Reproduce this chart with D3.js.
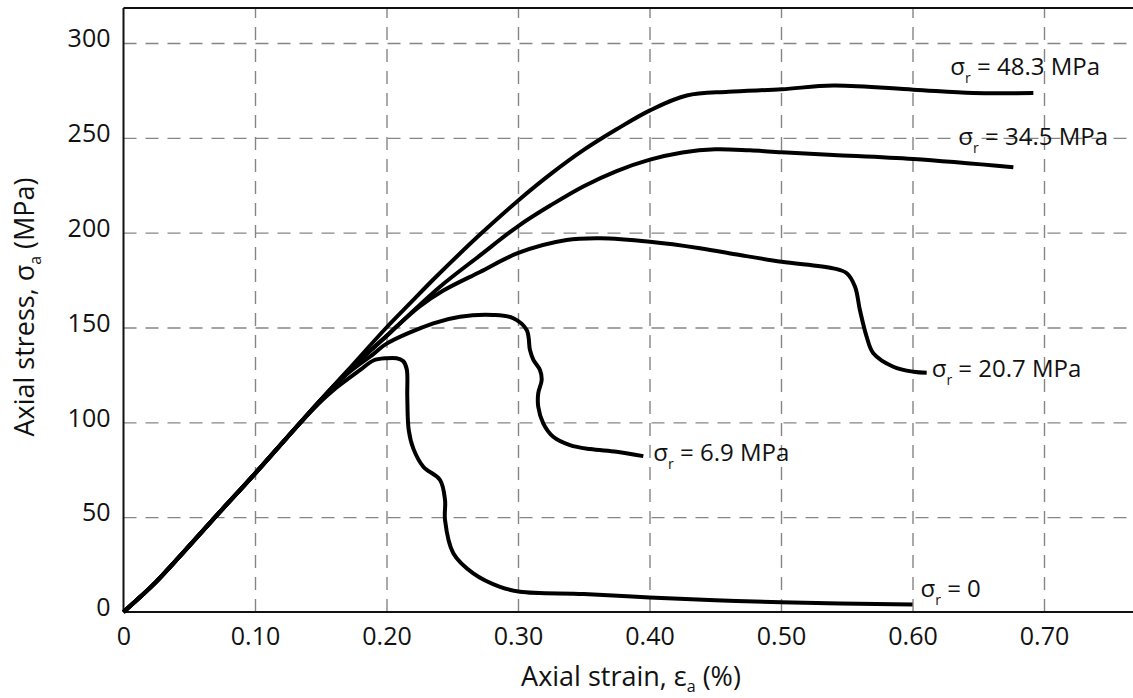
<!DOCTYPE html>
<html><head><meta charset="utf-8">
<script src="https://cdn.jsdelivr.net/npm/d3@7"></script>
<style>
body{margin:0;background:#fff}
svg{display:block;background:#fff}
text{font-family:"Open Sans",sans-serif;fill:#111}
</style>
</head><body>
<svg id="chart" width="1133" height="698"></svg>
<script>
// ---- data ----
const xTicks = [0, 0.1, 0.2, 0.3, 0.4, 0.5, 0.6, 0.7];
const xTickLabels = ["0", "0.10", "0.20", "0.30", "0.40", "0.50", "0.60", "0.70"];
const yTicks = [0, 50, 100, 150, 200, 250, 300];
const yTickLabels = ["0", "50", "100", "150", "200", "250", "300"];
const seriesLabels = ["48.3 MPa", "34.5 MPa", "20.7 MPa", "6.9 MPa", "0"];

// shared elastic part [strain %, stress MPa]
const commonPart = [[0,0],[0.012,7.5],[0.025,16],[0.045,31],[0.069,49.5],[0.1,73],[0.134,99.5]];

const curve483 = [[0.15,111.8],[0.17,127],[0.2,150],[0.218,162.8],[0.2356,175.3],[0.2711,199],[0.3002,217],
  [0.325,231],[0.3497,243.5],[0.375,254.5],[0.4004,264.5],[0.4283,272.3],[0.46,274.3],[0.5005,275.6],
  [0.5398,277.6],[0.6006,275.4],[0.6462,273.6],[0.6919,273.6]];
const curve345 = [[0.15,111.8],[0.17,126.5],[0.2,145.5],[0.2077,150.5],[0.2407,171.5],[0.2711,188],
  [0.3002,203.5],[0.325,214.5],[0.35,224.5],[0.375,232.5],[0.4004,238.5],[0.425,242.3],[0.45,244],
  [0.4764,243.4],[0.5005,242.4],[0.5398,241],[0.6006,238.8],[0.6767,234.5]];
const curve207 = [[0.15,111.8],[0.17,126.5],[0.2,145.5],[0.2077,150.5],[0.225,161],[0.2432,169.5],
  [0.2711,179.3],[0.3002,189.3],[0.337,196.1],[0.3624,197],[0.4004,195.2],[0.4384,191.8],
  [0.4688,188.2],[0.5005,184.7],[0.5398,181.2],[0.55,178.6],[0.5563,171.5],[0.56,159.2],
  [0.5651,145.2],[0.5702,136.4],[0.5854,129.3],[0.6006,126.7],[0.6108,126.2]];
const curve69 = [[0.15,111.5],[0.17,125.5],[0.19,136],[0.2001,141.5],[0.2356,152.2],[0.2559,155.7],
  [0.2812,156.6],[0.2964,154.9],[0.3066,148.7],[0.3091,138.1],[0.3117,132.9],[0.3167,127.6],
  [0.318,122.3],[0.3154,115.3],[0.3154,108.2],[0.3192,99.5],[0.3268,92.4],[0.3395,88],
  [0.3548,85.9],[0.375,84.5],[0.3953,82.2]];
const curve0 = [[0.15,111],[0.1596,117],[0.18,127.6],[0.19,132.6],[0.2,133.8],[0.2077,133.8],
  [0.2128,132.2],[0.2154,128],[0.2158,113.5],[0.2169,96],[0.2205,86],[0.228,76.6],[0.2407,69.6],
  [0.2445,59],[0.2445,48.5],[0.2508,31],[0.266,20.4],[0.2863,13.3],[0.3015,10.7],[0.35,9.5],
  [0.4,7.7],[0.45,6.2],[0.5,5.1],[0.6,4]];

const seriesCurves = [curve483, curve345, curve207, curve69, curve0];

// ---- layout ----
const W = 1133, H = 698;
const svg = d3.select("#chart");
const x = d3.scaleLinear().domain([0, 0.7]).range([123.5, 1044]);
const y = d3.scaleLinear().domain([0, 300]).range([612, 43]);
const plotLeft = x(0), plotBottom = y(0), plotTop = 8, plotRight = W;

// gridlines + tick labels via axes
const gx = svg.append("g").attr("transform", `translate(0,${plotBottom})`)
  .call(d3.axisBottom(x).tickValues(xTicks).tickSize(-(plotBottom - plotTop)).tickPadding(15)
    .tickFormat((d, i) => xTickLabels[i]));
const gy = svg.append("g").attr("transform", `translate(${plotLeft},0)`)
  .call(d3.axisLeft(y).tickValues(yTicks).tickSize(-(plotRight - plotLeft)).tickPadding(13)
    .tickFormat((d, i) => yTickLabels[i]));

[gx, gy].forEach(g => {
  g.select(".domain").remove();
  g.selectAll(".tick line").attr("stroke", "#858585").attr("stroke-width", 1.4)
    .attr("stroke-dasharray", "13,9");
  g.selectAll(".tick").filter(d => d === 0).select("line").remove();
  g.selectAll(".tick text").style("font-size", "25px").attr("fill", "#111");
});
gx.selectAll(".tick text").attr("dy", "0.71em");
gy.selectAll(".tick text").attr("dy", "0.15em");

// frame (left, top, bottom)
const frame = svg.append("g").attr("stroke", "#111").attr("stroke-width", 2).attr("fill", "none");
frame.append("line").attr("x1", plotLeft).attr("x2", plotLeft).attr("y1", plotTop).attr("y2", plotBottom);
frame.append("line").attr("x1", plotLeft).attr("x2", plotRight).attr("y1", plotTop).attr("y2", plotTop);
frame.append("line").attr("x1", plotLeft).attr("x2", plotRight).attr("y1", plotBottom).attr("y2", plotBottom);

// curves
const line = d3.line().x(d => x(d[0])).y(d => y(d[1])).curve(d3.curveCatmullRom.alpha(0.5));
svg.append("g").selectAll("path").data(seriesCurves).join("path")
  .attr("d", d => line(commonPart.concat(d)))
  .attr("fill", "none").attr("stroke", "#000").attr("stroke-width", 4)
  .attr("stroke-linejoin", "round");

// curve labels, offset from each curve's end point
const labelOffsets = [[-83, -18], [-55, -22], [5, 4], [10, 5], [8, -7]];
seriesCurves.forEach((c, i) => {
  const end = c[c.length - 1];
  const t = svg.append("text")
    .attr("x", x(end[0]) + labelOffsets[i][0])
    .attr("y", y(end[1]) + labelOffsets[i][1])
    .style("font-size", "24px");
  t.append("tspan").text("σ");
  t.append("tspan").text("r").style("font-size", "14px").attr("dy", 8);
  t.append("tspan").text(" = " + seriesLabels[i]).attr("dy", -8);
});

// axis titles
const xt = svg.append("text").attr("x", 631).attr("y", 686).attr("text-anchor", "middle")
  .style("font-size", "27px");
xt.append("tspan").text("Axial strain, ε");
xt.append("tspan").text("a").style("font-size", "16px").attr("dy", 6);
xt.append("tspan").text(" (%)").attr("dy", -6);

const yt = svg.append("text").attr("transform", "translate(34,307) rotate(-90)")
  .attr("text-anchor", "middle").style("font-size", "27px");
yt.append("tspan").text("Axial stress, σ");
yt.append("tspan").text("a").style("font-size", "16px").attr("dy", 7);
yt.append("tspan").text(" (MPa)").attr("dy", -7);
</script>
</body></html>
